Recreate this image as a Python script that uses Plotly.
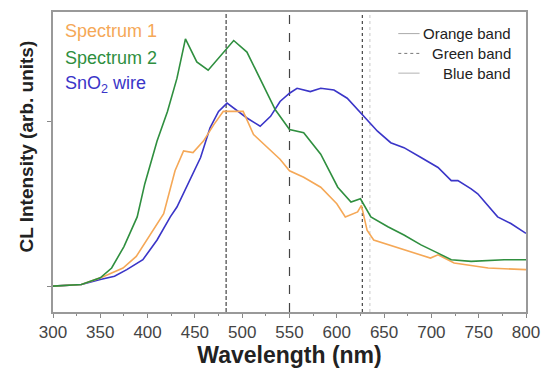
import plotly.graph_objects as go

# ---- data ----
s2_x = [300, 330, 350, 362, 375, 389, 397, 410, 421, 431, 440, 452, 464, 477, 491, 505, 522, 535, 550, 565, 583, 601, 615, 625, 636, 654, 671, 689, 707, 721, 742, 777, 800]
s2_y = [0.00, 0.01, 0.05, 0.11, 0.24, 0.42, 0.62, 0.88, 1.06, 1.26, 1.50, 1.36, 1.31, 1.40, 1.49, 1.42, 1.22, 1.07, 0.95, 0.93, 0.80, 0.60, 0.51, 0.53, 0.42, 0.36, 0.31, 0.25, 0.20, 0.16, 0.15, 0.16, 0.16]

s1_x = [300, 330, 350, 362, 374, 388, 400, 417, 429, 438, 448, 459, 470, 480, 491, 501, 512, 527, 540, 550, 565, 583, 600, 609, 622, 626, 632, 639, 660, 681, 699, 707, 724, 760, 800]
s1_y = [0.00, 0.01, 0.05, 0.08, 0.11, 0.18, 0.29, 0.44, 0.70, 0.82, 0.81, 0.88, 0.98, 1.06, 1.06, 1.06, 0.92, 0.84, 0.77, 0.70, 0.66, 0.60, 0.50, 0.42, 0.45, 0.49, 0.34, 0.28, 0.24, 0.20, 0.17, 0.19, 0.14, 0.11, 0.10]

w_x = [300, 330, 350, 365, 378, 395, 410, 424, 431, 442, 456, 466, 475, 484, 491, 505, 519, 530, 540, 550, 558, 572, 583, 597, 611, 627, 643, 657, 671, 689, 707, 721, 728, 742, 749, 770, 784, 800]
w_y = [0.00, 0.01, 0.04, 0.06, 0.10, 0.16, 0.28, 0.42, 0.48, 0.61, 0.78, 0.96, 1.06, 1.11, 1.08, 1.02, 0.97, 1.03, 1.12, 1.17, 1.20, 1.18, 1.20, 1.19, 1.14, 1.04, 0.94, 0.87, 0.84, 0.78, 0.72, 0.64, 0.64, 0.59, 0.56, 0.42, 0.38, 0.32]

series_names = ["Spectrum 1", "Spectrum 2", "SnO<sub>2</sub> wire"]
series_colors = ["#f5a857", "#2f8f3f", "#3a35c8"]

band_names = ["Orange band", "Green band", "Blue band"]
band_pos = [627, 550, 483]
x_ticks = [300, 350, 400, 450, 500, 550, 600, 650, 700, 750, 800]

Y0, Y1 = -0.157, 1.663
FONT = "Arial, Liberation Sans, Helvetica"

fig = go.Figure()

# vertical band markers
band_dash = ["dot", "dash", "4px,2px"]
for pos, d in zip(band_pos, band_dash):
    fig.add_trace(go.Scatter(x=[pos, pos], y=[Y0, Y1], mode="lines",
                             line=dict(color="#444444", width=1.2, dash=d),
                             showlegend=False, hoverinfo="skip"))
fig.add_trace(go.Scatter(x=[635, 635], y=[Y0, Y1], mode="lines",
                         line=dict(color="#c8c8c8", width=1, dash="dot"),
                         showlegend=False, hoverinfo="skip"))

for xs, ys, c in [(w_x, w_y, series_colors[2]), (s1_x, s1_y, series_colors[0]), (s2_x, s2_y, series_colors[1])]:
    fig.add_trace(go.Scatter(x=xs, y=ys, mode="lines", line=dict(color=c, width=1.6),
                             showlegend=False))

# left text legend
for i, (n, c) in enumerate(zip(series_names, series_colors)):
    fig.add_annotation(x=0.022, y=0.935 - i * 0.088, xref="paper", yref="paper",
                       text=n, showarrow=False, xanchor="left", yanchor="middle",
                       font=dict(family=FONT, size=18, color=c))

# right band legend (text + line samples)
leg_styles = [dict(color="#aaaaaa", width=1, dash="solid"),
              dict(color="#777777", width=1, dash="dot"),
              dict(color="#cccccc", width=1.5, dash="solid")]
leg_y = [0.928, 0.862, 0.796]
for n, st, yy in zip(band_names, leg_styles, leg_y):
    fig.add_annotation(x=0.973, y=yy, xref="paper", yref="paper", text=n,
                       showarrow=False, xanchor="right", yanchor="middle",
                       font=dict(family=FONT, size=15, color="#222222"))
    fig.add_shape(type="line", xref="paper", yref="paper",
                  x0=0.73, x1=0.775, y0=yy, y1=yy, line=st)

# y-axis title
fig.add_annotation(x=-0.058, y=0.55, xref="paper", yref="paper",
                   text="<b>CL Intensity (arb. units)</b>", textangle=-90,
                   showarrow=False, xanchor="center", yanchor="middle",
                   font=dict(family=FONT, size=19, color="#222222"))

fig.update_layout(
    width=550, height=373,
    margin=dict(l=53, r=23, t=10, b=61),
    plot_bgcolor="white", paper_bgcolor="white",
    font=dict(family=FONT, color="#333333"),
    showlegend=False,
    xaxis=dict(range=[300, 800], tickvals=x_ticks, ticks="outside", ticklen=4,
               tickcolor="#888888", showline=True, linecolor="#999999", linewidth=2,
               mirror=True, showgrid=False, zeroline=False,
               tickfont=dict(size=17, color="#444444"),
               minor=dict(ticks="outside", ticklen=2, dtick=25, tickcolor="#888888"),
               title=dict(text="<b>Wavelength (nm)</b>", font=dict(size=23, color="#222222"), standoff=4)),
    yaxis=dict(range=[Y0, Y1], tickvals=[0, 1], showticklabels=False, ticks="outside", ticklen=4,
               tickcolor="#888888", showline=True, linecolor="#999999", linewidth=2,
               mirror=True, showgrid=False, zeroline=False),
)

fig.write_html("out.html")
